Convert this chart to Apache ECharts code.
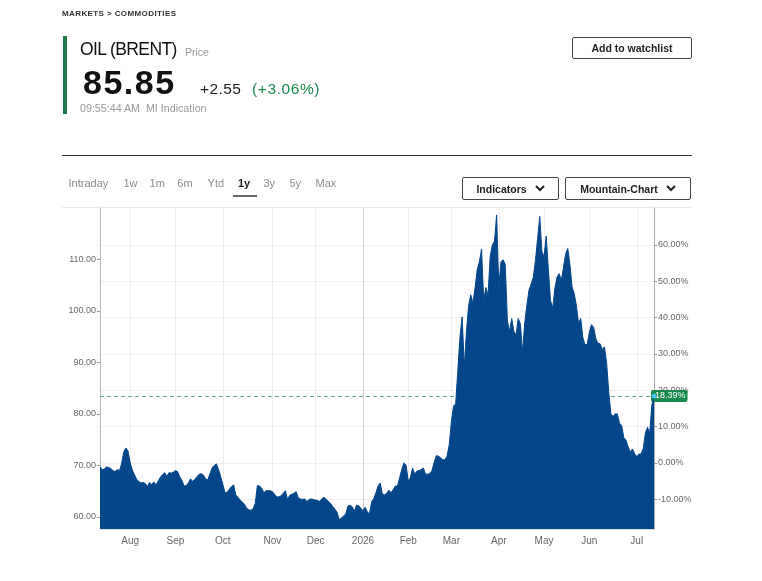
<!DOCTYPE html>
<html>
<head>
<meta charset="utf-8">
<script src="https://cdn.jsdelivr.net/npm/echarts@6/dist/echarts.min.js"></script>
<style>
html,body{margin:0;padding:0;background:#fff;}
body{width:762px;height:581px;position:relative;overflow:hidden;font-family:"Liberation Sans",Arial,sans-serif;color:#222;}
#chart{position:absolute;left:0;top:0;width:762px;height:581px;}
.abs{position:absolute;white-space:nowrap;line-height:1;}
.crumb{left:62px;top:10px;font-size:8px;font-weight:bold;letter-spacing:0.4px;color:#333;}
.bar{left:63px;top:36px;width:4px;height:78px;background:#1f7a4b;}
.title{left:80px;top:41px;font-size:17.5px;letter-spacing:-0.6px;color:#111;}
.pricelbl{left:185px;top:47px;font-size:10.5px;color:#9a9a9a;}
.last{left:83px;top:65px;font-size:34px;font-weight:bold;letter-spacing:1.5px;color:#111;}
.chg{left:200px;top:81px;font-size:15.5px;letter-spacing:0.4px;color:#222;}
.chgpct{left:252px;top:81px;font-size:15.5px;letter-spacing:0.6px;color:#1c8a4f;}
.time{left:80px;top:103px;font-size:10.7px;color:#9a9a9a;}
.btn{position:absolute;box-sizing:border-box;border:1px solid #444;border-radius:2px;display:flex;align-items:center;justify-content:center;font-size:10.5px;font-weight:bold;color:#222;white-space:nowrap;}
.btn svg{margin-left:8px;}
.hr{left:62px;top:155px;width:630px;height:1px;background:#333;}
.tab{top:178px;font-size:11px;color:#8c8c8c;}
.tab.on{color:#222;font-weight:bold;}
.uline{left:233px;top:195px;width:24px;height:2px;background:#666;}
.topline{left:62px;top:207px;width:629px;height:1px;background:#e9e9e9;}
</style>
</head>
<body>
<div id="chart"></div>

<div class="abs crumb">MARKETS &gt; COMMODITIES</div>
<div class="abs bar"></div>
<div class="abs title">OIL (BRENT)</div>
<div class="abs pricelbl">Price</div>
<div class="abs last">85.85</div>
<div class="abs chg">+2.55</div>
<div class="abs chgpct">(+3.06%)</div>
<div class="abs time">09:55:44 AM&nbsp;&nbsp;MI Indication</div>
<div class="btn" style="left:572px;top:37px;width:120px;height:22px;">Add to watchlist</div>
<div class="abs hr"></div>

<div class="abs tab" style="left:68.5px">Intraday</div>
<div class="abs tab" style="left:123.5px">1w</div>
<div class="abs tab" style="left:149.6px">1m</div>
<div class="abs tab" style="left:177.3px">6m</div>
<div class="abs tab" style="left:207.6px">Ytd</div>
<div class="abs tab on" style="left:238px">1y</div>
<div class="abs tab" style="left:263.4px">3y</div>
<div class="abs tab" style="left:289.5px">5y</div>
<div class="abs tab" style="left:315.5px">Max</div>
<div class="abs uline"></div>

<div class="btn" style="left:462px;top:177px;width:97px;height:23px;">Indicators<svg width="10" height="7" viewBox="0 0 10 7"><polyline points="1,1 5,5 9,1" fill="none" stroke="#222" stroke-width="2"/></svg></div>
<div class="btn" style="left:565px;top:177px;width:126px;height:23px;">Mountain-Chart<svg width="10" height="7" viewBox="0 0 10 7"><polyline points="1,1 5,5 9,1" fill="none" stroke="#222" stroke-width="2"/></svg></div>
<div class="abs topline"></div>

<script>
// ---- data ----
const START_DATE = '2025-07-14';
const END_DATE = '2026-07-13';
const HOLIDAYS = ['2025-12-25', '2026-01-01', '2026-04-03'];
const MONTHS = ['Jan','Feb','Mar','Apr','May','Jun','Jul','Aug','Sep','Oct','Nov','Dec'];
const REF_PRICE = 70.50;            // 0.00% level of the right axis
const PRICE_TICKS = [60, 70, 80, 90, 100, 110];
const PCT_TICKS = [-10, 0, 10, 20, 30, 40, 50, 60];
const PRICE_MIN = 57.67;
const PRICE_MAX = 120.13;
const prices = [
  69.7, 69.2, 69.3, 69.7, 69.6, 69.4, 69.0, 68.8, 69.2, 69.0,
  70.3, 72.6, 73.4, 72.8, 70.5, 69.1, 68.2, 67.3, 66.9, 66.6,
  66.7, 66.5, 65.9, 66.7, 66.3, 66.8, 66.2, 67.0, 67.7, 68.2,
  68.6, 67.9, 68.6, 68.5, 68.7, 69.0, 68.8, 67.8, 67.1, 66.0,
  66.1, 66.6, 67.4, 66.9, 67.3, 67.8, 68.3, 68.4, 68.1, 67.4,
  67.2, 68.4, 69.5, 70.0, 70.3, 69.2, 67.8, 66.3, 64.7, 64.8,
  65.4, 65.9, 66.2, 64.3, 63.8, 63.3, 62.9, 62.5, 61.7, 61.4,
  61.3, 61.6, 62.6, 66.1, 66.0, 65.6, 64.7, 65.1, 65.1, 65.1,
  64.9, 64.4, 63.9, 63.9, 64.1, 64.6, 65.1, 63.4, 64.2, 64.4,
  64.6, 64.9, 63.7, 63.5, 63.4, 63.5, 63.0, 63.4, 63.5, 63.4,
  63.3, 63.2, 63.0, 63.6, 63.8, 63.4, 63.0, 62.6, 62.0, 61.5,
  60.9, 59.5, 59.8, 60.2, 60.6, 62.1, 62.3, 62.0, 61.1, 62.3,
  62.2, 61.7, 61.2, 61.9, 61.0, 60.6, 62.9, 63.6, 64.7, 66.0,
  66.6, 64.4, 64.3, 64.6, 65.2, 64.7, 65.3, 66.0, 66.0, 67.6,
  69.2, 70.5, 70.0, 67.0, 67.6, 69.5, 68.3, 68.9, 69.0, 69.2,
  69.5, 68.3, 68.3, 68.4, 69.0, 70.6, 71.9, 71.8, 71.5, 71.1,
  71.1, 71.8, 74.0, 78.5, 81.5, 82.0, 88.5, 95.0, 98.8, 89.2,
  96.0, 101.0, 103.1, 101.5, 104.5, 108.0, 109.5, 112.0, 102.0, 104.5,
  103.0, 110.5, 112.8, 113.5, 118.6, 104.6, 109.5, 109.9, 109.0, 98.0,
  96.0, 98.5, 96.0, 95.3, 98.5, 97.5, 92.0, 97.5, 101.0, 104.0,
  105.2, 106.5, 109.8, 114.0, 118.3, 111.5, 110.5, 114.5, 108.0, 102.0,
  100.5, 104.3, 106.5, 107.2, 105.9, 108.4, 111.0, 112.1, 109.0, 104.6,
  103.3, 101.0, 97.6, 98.5, 94.8, 93.4, 93.5, 95.8, 97.3, 96.8,
  94.6, 93.7, 93.6, 92.5, 93.0, 90.0, 84.3, 80.0, 79.5, 80.0,
  80.0, 78.2, 77.7, 75.4, 74.9, 73.6, 72.6, 73.2, 72.3, 71.7,
  72.2, 72.2, 73.3, 76.3, 77.4, 76.3, 81.7, 83.465
];

// ---- trading-day categories ----
function tradingDays() {
  const out = [];
  let d = new Date(START_DATE + 'T00:00:00Z');
  const end = new Date(END_DATE + 'T00:00:00Z');
  while (d <= end) {
    const wd = d.getUTCDay();
    const s = d.toISOString().slice(0, 10);
    if (wd !== 0 && wd !== 6 && HOLIDAYS.indexOf(s) < 0) out.push(s);
    d = new Date(d.getTime() + 86400000);
  }
  return out;
}
const dates = tradingDays();
const isMonthStart = dates.map((s, i) => i > 0 && s.slice(5, 7) !== dates[i - 1].slice(5, 7));
const monthLineColors = [];
dates.forEach((s, i) => { if (isMonthStart[i]) monthLineColors.push(s.slice(5, 7) === '01' ? '#d4d4d4' : '#efefef'); });

const lastIdx = prices.length - 1;
const lastPrice = prices[lastIdx];
const toPct = p => (p / REF_PRICE - 1) * 100;

const BLUE = '#03478a';
const FONT = '"Liberation Sans", Arial, sans-serif';

const chart = echarts.init(document.getElementById('chart'));
chart.setOption({
  animation: false,
  textStyle: { fontFamily: FONT },
  grid: { left: 100, top: 207, width: 554, height: 322, containLabel: false },
  xAxis: {
    type: 'category',
    data: dates,
    boundaryGap: false,
    axisLine: { show: true, onZero: false, lineStyle: { color: '#e2e2e2' } },
    axisTick: { show: false },
    axisLabel: {
      interval: (i) => isMonthStart[i],
      formatter: (v) => { const m = parseInt(v.slice(5, 7), 10); return m === 1 ? v.slice(0, 4) : MONTHS[m - 1]; },
      color: '#666', fontSize: 10, margin: 7
    },
    splitLine: { show: true, interval: (i) => isMonthStart[i], lineStyle: { color: monthLineColors, width: 1 } }
  },
  yAxis: [
    {
      type: 'value', position: 'left', min: PRICE_MIN, max: PRICE_MAX,
      axisLine: { show: true, lineStyle: { color: '#b8b8b8' } },
      axisTick: { show: true, length: 3, customValues: PRICE_TICKS, lineStyle: { color: '#999' } },
      axisLabel: { customValues: PRICE_TICKS, formatter: v => v.toFixed(2), fontSize: 9, color: '#666', margin: 4 },
      splitLine: { show: false }
    },
    {
      type: 'value', position: 'right', min: toPct(PRICE_MIN), max: toPct(PRICE_MAX),
      axisLine: { show: true, lineStyle: { color: '#b0b0b0' } },
      axisTick: { show: true, length: 3, customValues: PCT_TICKS, lineStyle: { color: '#999' } },
      axisLabel: { customValues: PCT_TICKS, formatter: v => v.toFixed(2) + '%', fontSize: 9, color: '#666', margin: 4 },
      splitLine: { show: true, lineStyle: { color: '#efefef', width: 1 } }
    }
  ],
  series: [{
    type: 'line',
    data: prices,
    yAxisIndex: 0,
    symbol: 'none',
    z: 2,
    lineStyle: { color: BLUE, width: 1 },
    areaStyle: { color: BLUE, opacity: 1, origin: 'start' },
    markLine: {
      silent: true, symbol: 'none', z: 1,
      lineStyle: { color: '#5fae8c', type: [4, 3], width: 1 },
      label: {
        show: true, position: 'end', distance: -3,
        formatter: () => toPct(lastPrice).toFixed(2) + '%',
        color: '#fff', backgroundColor: '#17894c', borderRadius: 2,
        padding: [2, 2, 1, 4], fontSize: 9, lineHeight: 9
      },
      data: [{ yAxis: lastPrice }]
    },
    markPoint: {
      silent: true, z: 6,
      symbol: 'circle', symbolSize: 5,
      itemStyle: { color: '#45c0ec' },
      label: { show: false },
      data: [{ coord: [dates[lastIdx], lastPrice] }]
    }
  }]
});
</script>
</body>
</html>
